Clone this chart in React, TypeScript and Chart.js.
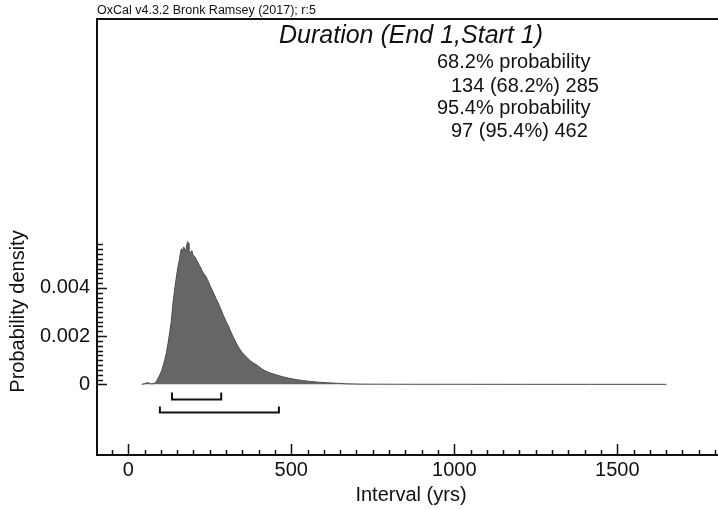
import React, { useEffect, useRef } from "react";
import { Chart, registerables } from "chart.js";

Chart.register(...registerables);

// ---- data ----
const intervalYrs = [
  41, 51, 57, 63, 71, 79, 86, 91, 96, 102, 107, 112, 117, 122, 127, 132, 137, 142, 147, 152,
  157, 160, 163, 166, 170, 173, 176, 179, 182, 184, 186, 189, 192, 195, 198, 202, 206, 210,
  214, 218, 222, 226, 230, 234, 239, 243, 247, 251, 255, 259, 263, 267, 271, 275, 279, 283,
  287, 291, 295, 299, 303, 308, 312, 316, 320, 325, 330, 335, 340, 345, 350, 355, 360, 365,
  370, 376, 384, 392, 400, 408, 416, 426, 436, 447, 457, 472, 487, 502, 518, 538, 558, 584,
  609, 639, 670, 711, 761, 812, 914, 1015, 1218, 1421, 1651,
];
const densityValues = [
  0, 0.00003, 0.00007, 0.00005, 0.00002, 0.00003, 0.00012, 0.00025, 0.00038, 0.00055, 0.00078,
  0.00102, 0.00132, 0.0017, 0.00215, 0.00262, 0.00335, 0.0039, 0.0044, 0.00485, 0.00518,
  0.00545, 0.00562, 0.00555, 0.0057, 0.0056, 0.00552, 0.00575, 0.00592, 0.00585, 0.0056,
  0.00542, 0.00548, 0.00555, 0.00538, 0.00532, 0.00526, 0.00512, 0.00505, 0.00493, 0.00485,
  0.00472, 0.00462, 0.00455, 0.00445, 0.00433, 0.00422, 0.00408, 0.00398, 0.00386, 0.00374,
  0.00362, 0.0035, 0.0034, 0.00327, 0.00315, 0.00302, 0.00288, 0.00276, 0.00264, 0.00252,
  0.0024, 0.00226, 0.00214, 0.00202, 0.00188, 0.00174, 0.00162, 0.0015, 0.0014, 0.00131,
  0.00124, 0.00117, 0.0011, 0.00103, 0.00096, 0.00088, 0.00082, 0.00074, 0.00066, 0.00059,
  0.00052, 0.00047, 0.00042, 0.00038, 0.00032, 0.00027, 0.00023, 0.00019, 0.00015, 0.00012,
  0.00009, 0.000065, 0.000045, 0.00002, 0.00001, 0.000006, 0.000004, 0.000003, 0.000002,
  0.000001, 0.0000005, 0.0000003,
];
const xMajorTicks = [0, 500, 1000, 1500];
const xMinorStep = 50;
const yMajorTicks = [0, 0.002, 0.004];
const yMinorStep = 0.0002;
const yMinorTop = 0.0058;
const xLimits = [-96, 1809];
const yLimits = [-0.00293, 0.01515];
const range68 = [134, 285];
const range95 = [97, 462];
const noteText = "OxCal v4.3.2 Bronk Ramsey (2017); r:5";
const titleText = "Duration (End 1,Start 1)";
const summaryLines = ["68.2% probability", "134 (68.2%) 285", "95.4% probability", "97 (95.4%) 462"];
const xAxisTitle = "Interval (yrs)";
const yAxisTitle = "Probability density";

const FONT = "'Liberation Sans', Arial, Helvetica, sans-serif";

const decorPlugin = {
  id: "oxcalDecor",
  afterDraw(chart: any) {
    const ctx = chart.ctx as CanvasRenderingContext2D;
    const area = chart.chartArea;
    const xs = chart.scales.x;
    const ys = chart.scales.y;
    ctx.save();
    ctx.strokeStyle = "#111";
    ctx.fillStyle = "#111";

    // frame top + left axis + bottom axis
    ctx.lineWidth = 2;
    ctx.beginPath();
    ctx.moveTo(area.right + 2, area.top);
    ctx.lineTo(area.left, area.top);
    ctx.lineTo(area.left, area.bottom);
    ctx.lineTo(area.right + 2, area.bottom);
    ctx.stroke();

    // x ticks (inside, upward)
    ctx.lineWidth = 1.5;
    ctx.beginPath();
    for (let v = Math.ceil(xLimits[0] / xMinorStep) * xMinorStep; v <= xLimits[1]; v += xMinorStep) {
      const px = Math.round(xs.getPixelForValue(v)) + 0.5;
      const major = xMajorTicks.includes(v);
      ctx.moveTo(px, area.bottom);
      ctx.lineTo(px, area.bottom - (major ? 11 : 5));
    }
    // y ticks (inside, rightward)
    for (let i = 0; i * yMinorStep <= yMinorTop + 1e-9; i++) {
      const v = i * yMinorStep;
      const py = Math.round(ys.getPixelForValue(v)) + 0.5;
      const major = yMajorTicks.some((t) => Math.abs(t - v) < 1e-9);
      ctx.moveTo(area.left, py);
      ctx.lineTo(area.left + (major ? 10 : 6), py);
    }
    ctx.stroke();

    // brackets for ranges
    const zeroY = ys.getPixelForValue(0);
    const drawBracket = (r: number[], offset: number, tick: number) => {
      const a = xs.getPixelForValue(r[0]);
      const b = xs.getPixelForValue(r[1]);
      const y = Math.round(zeroY + offset) + 0.5;
      ctx.beginPath();
      ctx.moveTo(a, y - tick);
      ctx.lineTo(a, y);
      ctx.lineTo(b, y);
      ctx.lineTo(b, y - tick);
      ctx.stroke();
    };
    ctx.lineWidth = 2;
    drawBracket(range68, 15, 7);
    drawBracket(range95, 28, 6);

    // texts
    ctx.textBaseline = "alphabetic";
    ctx.textAlign = "left";
    ctx.font = `12.5px ${FONT}`;
    ctx.fillText(noteText, 97, 14);

    ctx.font = `italic 25px ${FONT}`;
    ctx.textAlign = "center";
    ctx.fillText(titleText, 411, 43);

    ctx.font = `20px ${FONT}`;
    ctx.textAlign = "left";
    const lx = [437, 451, 437, 451];
    const ly = [68, 92, 114, 137];
    summaryLines.forEach((t, i) => ctx.fillText(t, lx[i], ly[i]));

    ctx.textAlign = "center";
    ctx.fillText(xAxisTitle, 411, 501);

    ctx.translate(24, 311.5);
    ctx.rotate(-Math.PI / 2);
    ctx.fillText(yAxisTitle, 0, 0);
    ctx.restore();
  },
};

export default function App() {
  const ref = useRef<HTMLCanvasElement | null>(null);
  useEffect(() => {
    if (!ref.current) return;
    const points = intervalYrs.map((x, i) => ({ x, y: densityValues[i] }));
    const chart = new Chart(ref.current, {
      type: "line",
      data: {
        datasets: [
          {
            data: points,
            borderColor: "#4a4a4a",
            borderWidth: 1,
            backgroundColor: "#666666",
            fill: { value: 0 },
            pointRadius: 0,
            tension: 0,
          },
        ],
      },
      options: {
        animation: false,
        responsive: false,
        devicePixelRatio: 1,
        layout: { padding: { top: 17, right: 0, bottom: 0, left: 0 } },
        plugins: { legend: { display: false }, tooltip: { enabled: false }, title: { display: false } },
        scales: {
          x: {
            type: "linear",
            min: xLimits[0],
            max: xLimits[1],
            afterBuildTicks: (s: any) => {
              s.ticks = xMajorTicks.map((v) => ({ value: v }));
            },
            afterFit: (s: any) => {
              s.height = 55;
            },
            grid: { display: true, drawOnChartArea: false, drawTicks: false },
            border: { display: false },
            ticks: {
              font: { family: FONT, size: 20 },
              color: "#111",
              padding: 3,
              maxRotation: 0,
              autoSkip: false,
              callback: (v: any) => String(v),
            },
          },
          y: {
            type: "linear",
            min: yLimits[0],
            max: yLimits[1],
            afterBuildTicks: (s: any) => {
              s.ticks = yMajorTicks.map((v) => ({ value: v }));
            },
            afterFit: (s: any) => {
              s.width = 97;
            },
            grid: { display: true, drawOnChartArea: false, drawTicks: false },
            border: { display: false },
            ticks: {
              font: { family: FONT, size: 20 },
              color: "#111",
              padding: 7,
              autoSkip: false,
              callback: (v: any) => (v === 0 ? "0" : Number(v).toFixed(3)),
            },
          },
        },
      },
      plugins: [decorPlugin],
    });
    return () => chart.destroy();
  }, []);
  return (
    <div style={{ position: "fixed", left: 0, top: 0, width: 718, height: 510, background: "#fff", overflow: "hidden" }}>
      <canvas ref={ref} width={718} height={510} style={{ display: "block", width: 718, height: 510 }} />
    </div>
  );
}
